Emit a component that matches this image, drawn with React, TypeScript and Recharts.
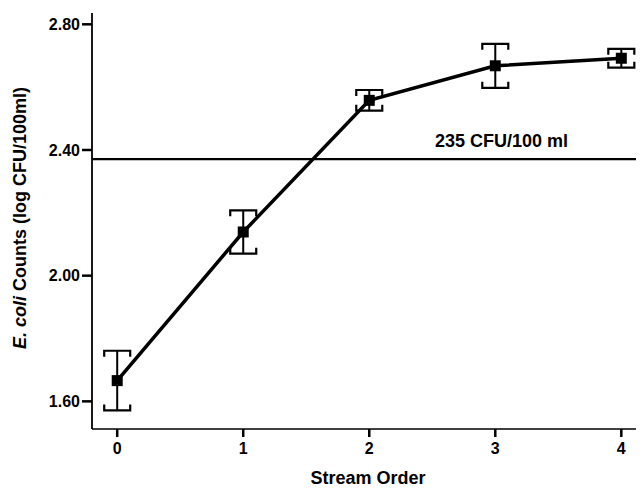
import React from 'react';
import {
  ComposedChart,
  Line,
  Scatter,
  XAxis,
  YAxis,
  ErrorBar,
  ReferenceLine,
  ReferenceDot,
} from 'recharts';

const streamOrder = [0, 1, 2, 3, 4];
const meanLogCount = [1.666, 2.139, 2.558, 2.668, 2.692];
const stdError = [0.095, 0.069, 0.033, 0.07, 0.03];
const yTicks = [1.6, 2.0, 2.4, 2.8];
const xTicks = [0, 1, 2, 3, 4];
const standardLog = 2.371;
const standardLabel = '235 CFU/100 ml';
const standardLabelX = 3.05;

const data = streamOrder.map((x, i) => ({
  x,
  y: meanLogCount[i],
  err: stdError[i],
  hi: meanLogCount[i] + stdError[i],
  lo: meanLogCount[i] - stdError[i],
}));

const FONT = '"Liberation Sans", Arial, Helvetica, sans-serif';

const Square = (props: any) => {
  const { cx, cy, index } = props;
  if (cx == null || cy == null) return <g key={`d${index}`} />;
  return <rect key={`d${index}`} x={cx - 5.5} y={cy - 5.5} width={11} height={11} fill="#000" />;
};

const UpperCap = (props: any) => {
  const { cx, cy } = props;
  return (
    <path
      d={`M${cx - 13},${cy + 6} V${cy} H${cx + 13} V${cy + 6}`}
      fill="none"
      stroke="#000"
      strokeWidth={2.2}
    />
  );
};

const LowerCap = (props: any) => {
  const { cx, cy } = props;
  return (
    <path
      d={`M${cx - 13},${cy - 6} V${cy} H${cx + 13} V${cy - 6}`}
      fill="none"
      stroke="#000"
      strokeWidth={2.2}
    />
  );
};

const YLabel = (props: any) => {
  const { viewBox } = props;
  const cx = viewBox.x + 12;
  const cy = viewBox.y + viewBox.height / 2 - 3;
  return (
    <text
      x={cx}
      y={cy}
      transform={`rotate(-90, ${cx}, ${cy})`}
      textAnchor="middle"
      dominantBaseline="central"
      fontFamily={FONT}
      fontWeight="bold"
      fontSize={18}
      fill="#000"
    >
      <tspan fontStyle="italic">E. coli</tspan> Counts (log CFU/100ml)
    </text>
  );
};

const tickStyle = { fontFamily: FONT, fontWeight: 'bold' as const, fontSize: 16, fill: '#000' };

export default function App() {
  return (
    <ComposedChart
      width={636}
      height={480}
      data={data}
      margin={{ top: 5, right: 0, bottom: 0, left: 0 }}
      style={{ background: '#fff' }}
    >
      <XAxis
        xAxisId="top"
        orientation="top"
        type="number"
        dataKey="x"
        domain={[-0.2, 4.18]}
        height={0}
        tick={false}
        tickLine={false}
        axisLine={{ stroke: '#000', strokeWidth: 1.6 }}
      />
      <XAxis
        type="number"
        dataKey="x"
        domain={[-0.2, 4.18]}
        ticks={xTicks}
        height={59}
        tickSize={8}
        tickMargin={6}
        tick={tickStyle}
        tickLine={{ stroke: '#000', strokeWidth: 2.5 }}
        axisLine={{ stroke: '#000', strokeWidth: 1.6 }}
        label={{
          value: 'Stream Order',
          position: 'insideBottom',
          offset: 4,
          fontFamily: FONT,
          fontWeight: 'bold',
          fontSize: 18,
          fill: '#000',
        }}
      />
      <YAxis
        type="number"
        domain={[1.512, 2.836]}
        ticks={yTicks}
        width={84}
        tickSize={10}
        tickMargin={2}
        tick={tickStyle}
        tickFormatter={(v: number) => v.toFixed(2)}
        tickLine={{ stroke: '#000', strokeWidth: 2.5 }}
        axisLine={{ stroke: '#000', strokeWidth: 1.8 }}
        label={{ content: <YLabel /> }}
        allowDataOverflow
      />
      <ReferenceLine y={standardLog} stroke="#000" strokeWidth={2.2} ifOverflow="visible" />
      <ReferenceDot
        x={standardLabelX}
        y={standardLog}
        r={0}
        fill="none"
        stroke="none"
        label={{
          value: standardLabel,
          position: 'top',
          offset: 12,
          fontFamily: FONT,
          fontWeight: 'bold',
          fontSize: 18,
          fill: '#000',
        }}
      />
      <Scatter dataKey="hi" shape={<UpperCap />} isAnimationActive={false} />
      <Scatter dataKey="lo" shape={<LowerCap />} isAnimationActive={false} />
      <Line
        type="linear"
        dataKey="y"
        stroke="#000"
        strokeWidth={3.5}
        dot={Square}
        activeDot={false}
        isAnimationActive={false}
      >
        <ErrorBar dataKey="err" width={0} stroke="#000" strokeWidth={2} direction="y" isAnimationActive={false} />
      </Line>
    </ComposedChart>
  );
}
